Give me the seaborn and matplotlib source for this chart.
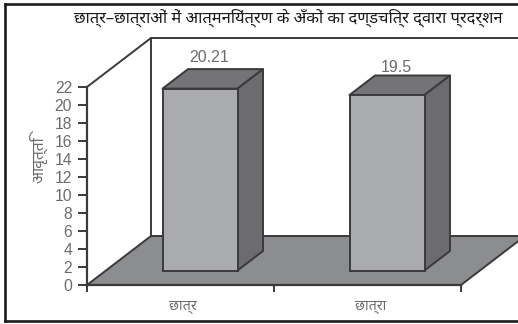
import matplotlib
matplotlib.use("Agg")
import matplotlib.pyplot as plt
from matplotlib.lines import Line2D
import seaborn as sns
import pandas as pd

title = "छात्र–छात्राओं में आत्मनियंत्रण के अँकों का दण्डचित्र द्वारा प्रदर्शन"
y_label = "आवृत्ति"
categories = ["छात्र", "छात्रा"]
values = [20.21, 19.5]
value_labels = ["20.21", "19.5"]
y_ticks = list(range(0, 23, 2))

W, H = 518, 324
DPI = 100
HINDI = ["Noto Sans", "Noto Sans CJK SC", "DejaVu Sans"]
sns.set_theme(style="white")
plt.rcParams["font.family"] = ["Liberation Sans", "DejaVu Sans"]

FRONT, SIDE, TOP, FLOOR = "#a9abae", "#6c6c6e", "#747476", "#8b8d8f"
LINE, GREY = "#3a3a3c", "#6b6b6b"
LW = 1.4

fig = plt.figure(figsize=(W / DPI, H / DPI), dpi=DPI, facecolor="white")
# axis box: x 87..461 px, y 285 (=0) .. 87 (=22) px
ax = fig.add_axes([87 / W, 1 - 285 / H, (461 - 87) / W, (285 - 87) / H])

df = pd.DataFrame({"c": categories, "v": values})
sns.barplot(data=df, x="c", y="v", ax=ax, width=75 / 187, color=FRONT,
            saturation=1, edgecolor=LINE, linewidth=LW, zorder=5)
ax.set_xlim(-0.5, 1.5)
ax.set_ylim(0, 22)
ax.set_yticks(y_ticks)
ax.set_xticks([-0.5, 0.5, 1.5])
ax.set_xticklabels([])
ax.set_xlabel("")
ax.set_ylabel("")
ax.patch.set_visible(False)

px_x = 1 / 187      # data units per pixel, x
px_y = 22 / 198     # data units per pixel, y

# floor and back wall
dx, dy = 64 * px_x, 49 * px_y
x0, x1 = -0.5, 1.5
ax.fill([x0, x1, x1 + dx, x0 + dx], [0, 0, dy, dy], color=FLOOR, lw=0, zorder=1, clip_on=False)
wall = dict(color=LINE, lw=LW, zorder=2, clip_on=False)
ax.plot([x0, x0 + dx, x1 + 2], [22, 22 + dy, 22 + dy], **wall)
ax.plot([x0 + dx, x0 + dx], [22 + dy, dy], **wall)
ax.plot([x0, x0 + dx, x1 + dx], [0, dy, dy], **wall)
ax.plot([x1, x1 + dx], [0, dy], **wall)

# 3-D bars
base = 14.5 * px_y
shift = 19.5 * px_x
ddx, ddy = 25.5 * px_x, 19.5 * px_y
offsets = [11.5, 8.5]
for bar, lab, off in zip(ax.patches, value_labels, offsets):
    bar.set_y(base)
    bar.set_x(bar.get_x() + shift)
    bar.set_clip_on(False)
    l, w, t = bar.get_x(), bar.get_width(), base + bar.get_height()
    r = l + w
    ax.fill([l, r, r + ddx, l + ddx], [t, t, t + ddy, t + ddy], fc=TOP, ec=LINE, lw=LW, zorder=4, clip_on=False, joinstyle="round")
    ax.fill([r, r + ddx, r + ddx, r], [base, base + ddy, t + ddy, t], fc=SIDE, ec=LINE, lw=LW, zorder=4, clip_on=False, joinstyle="round")
    ax.text(l + (w + ddx) / 2 - 3.5 * px_x, t + ddy + off * px_y, lab, ha="center", va="center",
            fontsize=11.5, color=GREY, clip_on=False)

for s in ["top", "right"]:
    ax.spines[s].set_visible(False)
for s in ["left", "bottom"]:
    ax.spines[s].set_color(LINE)
    ax.spines[s].set_linewidth(LW + 0.2)
    ax.spines[s].set_zorder(3)
ax.tick_params(axis="y", direction="out", length=6.5, width=LW, color=LINE, labelcolor=GREY,
               labelsize=11.3, pad=4.2, left=True)
ax.tick_params(axis="x", direction="out", length=5, width=LW, color=LINE, bottom=True)

for i, c in enumerate(categories):
    fig.text([183 / W, 371 / W][i], 1 - 307 / H, c, ha="center", va="center",
             fontsize=10.2, color=GREY, family=HINDI)
fig.text(38 / W, 1 - 160 / H, y_label, rotation=90, ha="center", va="center",
         fontsize=11.3, color=GREY, family=HINDI)
fig.text(288 / W, 1 - 18 / H, title, ha="center", va="center", fontsize=11.9,
         color="#1a1a1a", family=HINDI)

# outer frame
for xs, ys in [([5, 5], [4, 321]), ([5, W], [4, 4]), ([5, W], [321, 321])]:
    fig.add_artist(Line2D([x / W for x in xs], [1 - y / H for y in ys], color="#1c1c1c", lw=1.9,
                          solid_capstyle="projecting"))

fig.savefig("out.png", dpi=DPI)
